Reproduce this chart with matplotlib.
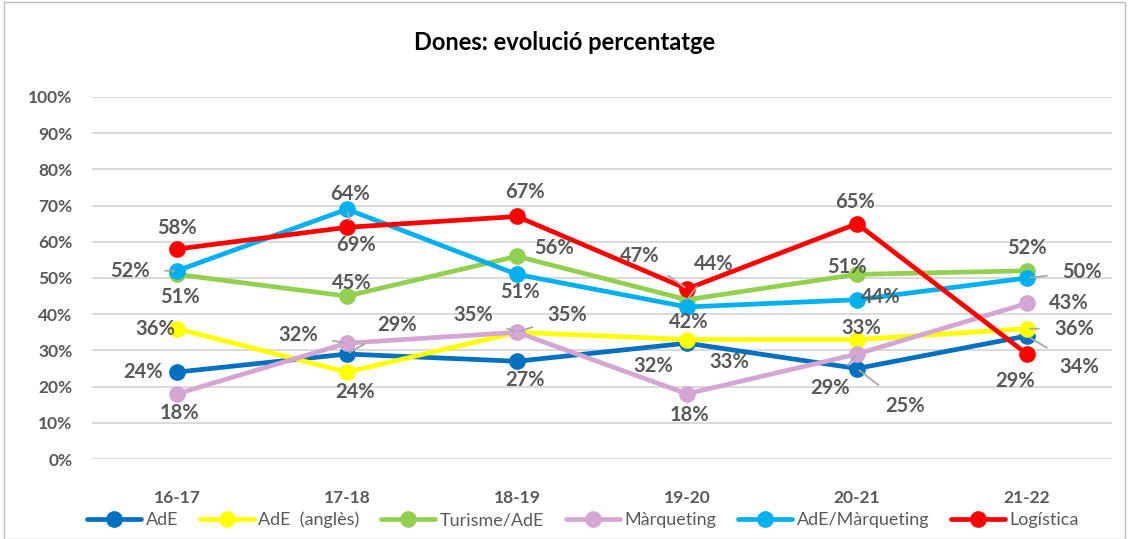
import matplotlib
matplotlib.use("Agg")
import matplotlib.pyplot as plt
from matplotlib.patches import Rectangle
from matplotlib.ticker import FuncFormatter

plt.rcParams['font.family'] = ['Lato', 'DejaVu Sans']

categories = ["16-17", "17-18", "18-19", "19-20", "20-21", "21-22"]
ade = [24, 29, 27, 32, 25, 34]
ade_angles = [36, 24, 35, 33, 33, 36]
turisme = [51, 45, 56, 44, 51, 52]
marqueting = [18, 32, 35, 18, 29, 43]
ade_marqueting = [52, 69, 51, 42, 44, 50]
logistica = [58, 64, 67, 47, 65, 29]

series_names = ["AdE", "AdE  (anglès)", "Turisme/AdE", "Màrqueting", "AdE/Màrqueting", "Logística"]
series_values = [ade, ade_angles, turisme, marqueting, ade_marqueting, logistica]
colors = ["#0070C0", "#FFFF00", "#92D050", "#D5A6D3", "#00B0F0", "#FF0000"]

# label offsets in pixels (dx, dy) and whether a leader line is drawn
label_offsets = {
    "AdE": [(-34, 0, False), (50, 29, True), (8, -19, False), (-34, -23, False), (48, -37, True), (52, -31, True)],
    "AdE  (anglès)": [(-22, 0, False), (8, -20, False), (50, 17, True), (42, -22, False), (4, 12, False), (47, 0, True)],
    "Turisme/AdE": [(3, -23, False), (5, 13, False), (37, 8, False), (27, 36, True), (-10, 7, False), (0, 23, False)],
    "Màrqueting": [(2, -19, False), (-49, 8, True), (-44, 17, True), (2, -21, False), (-27, -34, True), (42, 0, False)],
    "AdE/Màrqueting": [(-47, 0, True), (9, -36, True), (3, -18, False), (2, -15, False), (24, 3, False), (55, 6, True)],
    "Logística": [(0, 21, False), (3, 33, False), (8, 24, False), (-47, 33, True), (-2, 22, False), (-12, -27, False)],
}

W, H = 1129, 539
fig = plt.figure(figsize=(W / 100, H / 100), dpi=100)
ax = fig.add_axes([92 / W, 80 / H, 1020 / W, 362 / H])

x = list(range(len(categories)))
label_color = "#595959"
for name, vals, col in zip(series_names, series_values, colors):
    ax.plot(x, vals, color=col, lw=3.4, marker="o", markersize=11, label=name,
            solid_capstyle="round", zorder=3)
for name, vals in zip(series_names, series_values):
    for xi, v, (dx, dy, lead) in zip(x, vals, label_offsets[name]):
        kw = {}
        if lead:
            kw["arrowprops"] = dict(arrowstyle="-", color="#A6A6A6", lw=1.3, shrinkA=9, shrinkB=2)
        ax.annotate(f"{v}%", xy=(xi, v), xytext=(dx, dy), textcoords="offset pixels",
                    ha="center", va="center", fontsize=14.5, fontweight="bold",
                    color=label_color, zorder=5, **kw)

ax.set_xlim(-0.5, len(categories) - 0.5)
ax.set_ylim(0, 100)
ax.set_yticks(range(0, 101, 10))
ax.yaxis.set_major_formatter(FuncFormatter(lambda v, p: f"{int(v)}%"))
ax.set_xticks(x)
ax.set_xticklabels(categories)
ax.grid(axis="y", color="#D9D9D9", lw=1.4, zorder=0)
ax.set_axisbelow(True)
for s in ax.spines.values():
    s.set_visible(False)
ax.tick_params(axis="both", length=0, labelsize=12.5, colors=label_color)
ax.tick_params(axis="y", pad=14)
ax.tick_params(axis="x", pad=22)
for t in ax.get_xticklabels() + ax.get_yticklabels():
    t.set_fontweight("bold")

fig.text(0.5, 1 - 42 / H, "Dones: evolució percentatge", ha="center", va="center",
         fontsize=17, fontweight="bold", color="black")

leg = fig.legend(loc="center", bbox_to_anchor=(583 / W, 1 - 520 / H), ncol=6, frameon=False,
                 fontsize=13, handlelength=3.0, columnspacing=1.2, handletextpad=0.25,
                 labelcolor=label_color)

fig.patches.append(Rectangle((4 / W, 0), 1 - 8 / W, 1 - 2 / H, transform=fig.transFigure,
                             fill=False, edgecolor="#BFBFBF", lw=1))

fig.savefig("out.png", dpi=100)
